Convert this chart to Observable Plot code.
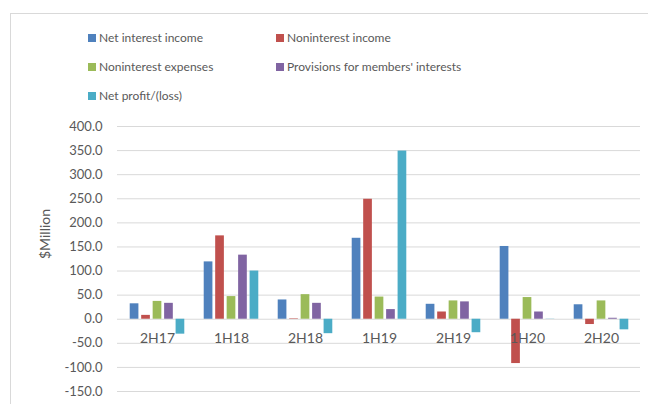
<!DOCTYPE html>
<html><head><meta charset="utf-8">
<script src="https://cdn.jsdelivr.net/npm/d3@7"></script>
<script src="https://cdn.jsdelivr.net/npm/@observablehq/plot@0.6"></script>
<style>
body{margin:0;background:#fff;font-family:Lato,sans-serif;}
#wrap{position:relative;width:648px;height:404px;overflow:hidden;background:#fff;}
#frame{position:absolute;left:10px;top:13px;width:800px;height:600px;border:1px solid #d9d9d9;}
.lg{position:absolute;font-size:12px;color:#595959;line-height:16px;white-space:nowrap;}
.lg i{display:inline-block;width:8px;height:8px;margin-right:3px;vertical-align:0px;}
#chart{position:absolute;left:0;top:110px;}
</style></head>
<body>
<div id="wrap">
<div id="frame"></div>
<div id="legend"></div>
<div id="chart"></div>
</div>
<script>
const periods = ["2H17","1H18","2H18","1H19","2H19","1H20","2H20"];
const series = ["Net interest income","Noninterest income","Noninterest expenses","Provisions for members' interests","Net profit/(loss)"];
const colors = ["#4F81BD","#C0504D","#9BBB59","#8064A2","#4BACC6"];
const netInterestIncome   = [32, 119, 40, 168, 31, 151, 30];
const noninterestIncome   = [8, 173, 1, 249, 15, -92, -11];
const noninterestExpenses = [37, 47, 51, 46, 38, 45, 38];
const provisions          = [33, 133, 33, 20, 36, 15, 2];
const netProfit           = [-31, 100, -30, 349, -28, 0.4, -22];
const yTicks = [-150,-100,-50,0,50,100,150,200,250,300,350,400];

const valuesBySeries = [netInterestIncome, noninterestIncome, noninterestExpenses, provisions, netProfit];

// legend
const legendPos = [[88,30],[276,30],[88,59],[276,59],[88,88]];
const lg = document.getElementById("legend");
series.forEach((s,i)=>{
  const d = document.createElement("div");
  d.className="lg";
  d.style.left = legendPos[i][0]+"px";
  d.style.top = legendPos[i][1]+"px";
  d.innerHTML = `<i style="background:${colors[i]}"></i>${s.replace(/'/g,"&#39;")}`;
  lg.appendChild(d);
});

const width = 648, marginLeft = 117, marginRight = 8;
const step = (width - marginLeft - marginRight) / periods.length;
const groupW = step * 0.74;
const pitch = groupW / (series.length - 0.18);
const barW = pitch * 0.82;
const inset = (step - barW) / 2;

const barMarks = series.map((s,i)=>
  Plot.barY(periods.map((p,j)=>({period:p, series:s, value:valuesBySeries[i][j]})), {
    x:"period", y:"value", fill: colors[i],
    insetLeft: inset, insetRight: inset,
    dx: (i - (series.length-1)/2) * pitch
  })
);

const chart = Plot.plot({
  width, height: 294,
  marginLeft, marginRight, marginTop: 16, marginBottom: 13,
  style: {fontFamily: "Lato, sans-serif", background: "transparent"},
  x: {domain: periods, padding: 0, axis: null},
  y: {domain: [-150, 400]},
  marks: [
    Plot.gridY(yTicks, {stroke: "#d9d9d9", strokeOpacity: 1, strokeWidth: 1}),
    ...barMarks,
    Plot.text(periods, {x: d=>d, y: 0, dy: 19, text: d=>d, fontSize: 14, fill: "#595959"}),
    Plot.axisY({ticks: yTicks, tickFormat: d=>d.toFixed(1), tickSize: 0, tickPadding: 15,
      fontSize: 13, fill: "#595959", label: null}),
    Plot.text(["$Million"], {frameAnchor: "left", text: d=>d, rotate: -90, dx: -72, fontSize: 14, fill: "#595959"})
  ]
});
document.getElementById("chart").appendChild(chart);
</script>
</body></html>
